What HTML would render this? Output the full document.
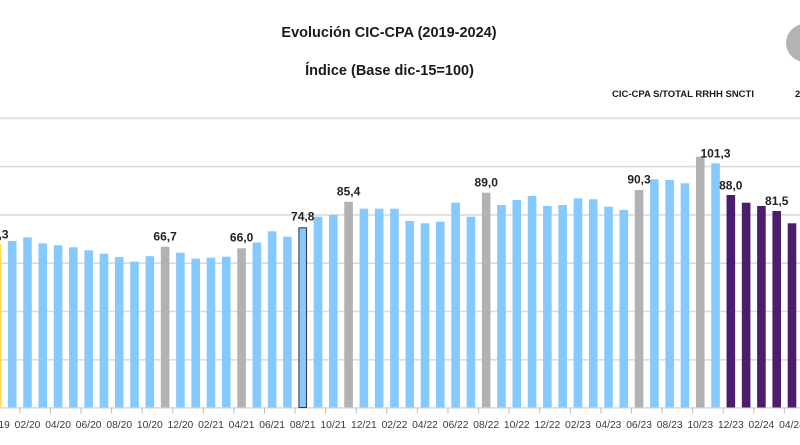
<!DOCTYPE html>
<html><head><meta charset="utf-8"><style>
html,body{margin:0;padding:0;background:#fff;}
svg{display:block;font-family:"Liberation Sans",Arial,sans-serif;}
</style></head><body>
<svg width="800" height="445" viewBox="0 0 800 445" xmlns="http://www.w3.org/2000/svg">
<rect width="800" height="445" fill="#fff"/>
<text x="389" y="37" font-size="14.5" font-weight="bold" fill="#1a1a1a" text-anchor="middle">Evolución CIC-CPA (2019-2024)</text>
<text x="389.5" y="75" font-size="14.5" font-weight="bold" fill="#1a1a1a" text-anchor="middle">Índice (Base dic-15=100)</text>
<circle cx="805" cy="43" r="19" fill="#b3b3b3"/>
<text x="612" y="97" font-size="9.4" font-weight="bold" fill="#1a1a1a" textLength="142" lengthAdjust="spacingAndGlyphs">CIC-CPA S/TOTAL RRHH SNCTI</text>
<text x="795" y="97" font-size="9.4" font-weight="bold" fill="#1a1a1a">2</text>
<g stroke="#dcdcdc" stroke-width="1.6">
<line x1="0" x2="800" y1="118.3" y2="118.3"/>
<line x1="0" x2="800" y1="166.6" y2="166.6"/>
<line x1="0" x2="800" y1="214.9" y2="214.9"/>
<line x1="0" x2="800" y1="263.2" y2="263.2"/>
<line x1="0" x2="800" y1="311.5" y2="311.5"/>
<line x1="0" x2="800" y1="359.8" y2="359.8"/>
<line x1="0" x2="800" y1="407.8" y2="407.8"/>
</g>
<g fill="#86C9FE">
<rect x="7.91" y="241" width="8.6" height="166.5"/>
<rect x="23.2" y="237.3" width="8.6" height="170.2"/>
<rect x="38.49" y="243.3" width="8.6" height="164.2"/>
<rect x="53.78" y="245.3" width="8.6" height="162.2"/>
<rect x="69.07" y="247.3" width="8.6" height="160.2"/>
<rect x="84.36" y="250.3" width="8.6" height="157.2"/>
<rect x="99.65" y="253.7" width="8.6" height="153.8"/>
<rect x="114.94" y="257" width="8.6" height="150.5"/>
<rect x="130.23" y="261.7" width="8.6" height="145.8"/>
<rect x="145.52" y="256.2" width="8.6" height="151.3"/>
<rect x="176.1" y="252.7" width="8.6" height="154.8"/>
<rect x="191.39" y="258.7" width="8.6" height="148.8"/>
<rect x="206.68" y="257.7" width="8.6" height="149.8"/>
<rect x="221.97" y="256.7" width="8.6" height="150.8"/>
<rect x="252.55" y="242.5" width="8.6" height="165"/>
<rect x="267.84" y="231.3" width="8.6" height="176.2"/>
<rect x="283.13" y="236.7" width="8.6" height="170.8"/>
<rect x="313.71" y="216.7" width="8.6" height="190.8"/>
<rect x="329" y="215" width="8.6" height="192.5"/>
<rect x="359.58" y="208.7" width="8.6" height="198.8"/>
<rect x="374.87" y="208.7" width="8.6" height="198.8"/>
<rect x="390.16" y="208.7" width="8.6" height="198.8"/>
<rect x="405.45" y="221" width="8.6" height="186.5"/>
<rect x="420.74" y="223.3" width="8.6" height="184.2"/>
<rect x="436.03" y="221.7" width="8.6" height="185.8"/>
<rect x="451.32" y="202.7" width="8.6" height="204.8"/>
<rect x="466.61" y="216.7" width="8.6" height="190.8"/>
<rect x="497.19" y="205" width="8.6" height="202.5"/>
<rect x="512.48" y="200" width="8.6" height="207.5"/>
<rect x="527.77" y="196" width="8.6" height="211.5"/>
<rect x="543.06" y="206" width="8.6" height="201.5"/>
<rect x="558.35" y="205" width="8.6" height="202.5"/>
<rect x="573.64" y="198.3" width="8.6" height="209.2"/>
<rect x="588.93" y="199.3" width="8.6" height="208.2"/>
<rect x="604.22" y="206.7" width="8.6" height="200.8"/>
<rect x="619.51" y="210" width="8.6" height="197.5"/>
<rect x="650.09" y="179.3" width="8.6" height="228.2"/>
<rect x="665.38" y="180" width="8.6" height="227.5"/>
<rect x="680.67" y="183.3" width="8.6" height="224.2"/>
<rect x="711.25" y="163.3" width="8.6" height="244.2"/>
</g>
<rect x="-7.38" y="244" width="8.6" height="163.5" fill="#FFD84D"/>
<g fill="#B2B2B2">
<rect x="160.81" y="246.7" width="8.6" height="160.8"/>
<rect x="237.26" y="248.3" width="8.6" height="159.2"/>
<rect x="344.29" y="201.7" width="8.6" height="205.8"/>
<rect x="481.9" y="192.7" width="8.6" height="214.8"/>
<rect x="634.8" y="190" width="8.6" height="217.5"/>
<rect x="695.96" y="156.7" width="8.6" height="250.8"/>
</g>
<rect x="298.92" y="227.8" width="7.6" height="179.7" fill="#86C9FE" stroke="#3a3f47" stroke-width="1.1"/>
<g fill="#4A1D6D">
<rect x="726.54" y="195" width="8.6" height="212.5"/>
<rect x="741.83" y="202.7" width="8.6" height="204.8"/>
<rect x="757.12" y="206" width="8.6" height="201.5"/>
<rect x="772.41" y="211" width="8.6" height="196.5"/>
<rect x="787.7" y="223.3" width="8.6" height="184.2"/>
</g>
<g stroke="#bdbdbd" stroke-width="1">
<line x1="19.86" x2="19.86" y1="408" y2="413.5"/>
<line x1="50.44" x2="50.44" y1="408" y2="413.5"/>
<line x1="81.02" x2="81.02" y1="408" y2="413.5"/>
<line x1="111.6" x2="111.6" y1="408" y2="413.5"/>
<line x1="142.18" x2="142.18" y1="408" y2="413.5"/>
<line x1="172.76" x2="172.76" y1="408" y2="413.5"/>
<line x1="203.34" x2="203.34" y1="408" y2="413.5"/>
<line x1="233.92" x2="233.92" y1="408" y2="413.5"/>
<line x1="264.5" x2="264.5" y1="408" y2="413.5"/>
<line x1="295.08" x2="295.08" y1="408" y2="413.5"/>
<line x1="325.66" x2="325.66" y1="408" y2="413.5"/>
<line x1="356.24" x2="356.24" y1="408" y2="413.5"/>
<line x1="386.82" x2="386.82" y1="408" y2="413.5"/>
<line x1="417.4" x2="417.4" y1="408" y2="413.5"/>
<line x1="447.98" x2="447.98" y1="408" y2="413.5"/>
<line x1="478.56" x2="478.56" y1="408" y2="413.5"/>
<line x1="509.14" x2="509.14" y1="408" y2="413.5"/>
<line x1="539.72" x2="539.72" y1="408" y2="413.5"/>
<line x1="570.3" x2="570.3" y1="408" y2="413.5"/>
<line x1="600.88" x2="600.88" y1="408" y2="413.5"/>
<line x1="631.46" x2="631.46" y1="408" y2="413.5"/>
<line x1="662.04" x2="662.04" y1="408" y2="413.5"/>
<line x1="692.62" x2="692.62" y1="408" y2="413.5"/>
<line x1="723.2" x2="723.2" y1="408" y2="413.5"/>
<line x1="753.78" x2="753.78" y1="408" y2="413.5"/>
<line x1="784.36" x2="784.36" y1="408" y2="413.5"/>
</g>
<g font-size="10.3" fill="#3a3a3a" text-anchor="middle">
<text x="-3.08" y="428">12/19</text>
<text x="27.5" y="428">02/20</text>
<text x="58.08" y="428">04/20</text>
<text x="88.66" y="428">06/20</text>
<text x="119.24" y="428">08/20</text>
<text x="149.82" y="428">10/20</text>
<text x="180.4" y="428">12/20</text>
<text x="210.98" y="428">02/21</text>
<text x="241.56" y="428">04/21</text>
<text x="272.14" y="428">06/21</text>
<text x="302.72" y="428">08/21</text>
<text x="333.3" y="428">10/21</text>
<text x="363.88" y="428">12/21</text>
<text x="394.46" y="428">02/22</text>
<text x="425.04" y="428">04/22</text>
<text x="455.62" y="428">06/22</text>
<text x="486.2" y="428">08/22</text>
<text x="516.78" y="428">10/22</text>
<text x="547.36" y="428">12/22</text>
<text x="577.94" y="428">02/23</text>
<text x="608.52" y="428">04/23</text>
<text x="639.1" y="428">06/23</text>
<text x="669.68" y="428">08/23</text>
<text x="700.26" y="428">10/23</text>
<text x="730.84" y="428">12/23</text>
<text x="761.42" y="428">02/24</text>
<text x="792" y="428">04/24</text>
</g>
<g font-size="12" font-weight="bold" fill="#222" text-anchor="middle">
<text x="-3.08" y="238.3">67,3</text>
<text x="165.1" y="240.7">66,7</text>
<text x="241.6" y="241.7">66,0</text>
<text x="302.7" y="220.7">74,8</text>
<text x="348.6" y="195.7">85,4</text>
<text x="486.2" y="186.7">89,0</text>
<text x="639" y="183.3">90,3</text>
<text x="715.5" y="157.3">101,3</text>
<text x="730.8" y="189.3">88,0</text>
<text x="776.7" y="205">81,5</text>
</g>
</svg>
</body></html>
